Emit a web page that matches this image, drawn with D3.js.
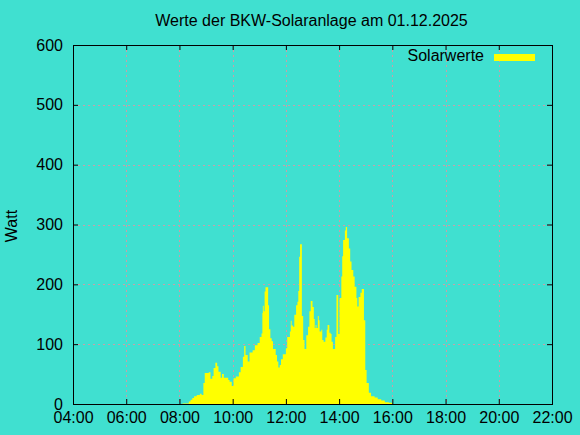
<!DOCTYPE html>
<html>
<head>
<meta charset="utf-8">
<script src="https://cdn.jsdelivr.net/npm/d3@7"></script>
<style>
  body { margin: 0; background: #40e0d0; }
  svg { display: block; font-family: "Liberation Sans", Arial, sans-serif; }
</style>
</head>
<body>
<svg id="chart"></svg>
<script>
// Solarwerte 01.12.2025, Zeit (HH:MM) und Leistung in Watt
var times = [
  "08:07","08:21","08:25","08:29","08:33","08:39","08:46","08:50","08:54","08:57",
  "09:01","09:06","09:10","09:14","09:17","09:21","09:25","09:28","09:33","09:36",
  "09:40","09:44","09:50","09:53","09:58","10:02","10:07","10:10","10:14","10:18",
  "10:23","10:26","10:29","10:34","10:38","10:45","10:50","10:56","11:01","11:05",
  "11:07","11:08","11:10","11:12","11:14","11:20","11:22","11:25","11:28","11:31",
  "11:37","11:40","11:43","11:46","11:49","11:53","12:00","12:03","12:09","12:11",
  "12:13","12:16","12:19","12:23","12:26","12:28","12:30","12:32","12:36","12:39",
  "12:42","12:46","12:50","12:53","12:56","13:00","13:03","13:05","13:07","13:09",
  "13:12","13:14","13:16","13:20","13:22","13:25","13:29","13:32","13:34","13:38",
  "13:41","13:43","13:46","13:51","13:54","13:58","14:01","14:05","14:07","14:09",
  "14:13","14:15","14:18","14:22","14:25","14:28","14:32","14:35","14:39","14:41",
  "14:44","14:48","14:51","14:56","14:59","15:02","15:07","15:12","15:20","15:27",
  "15:35","15:43","15:52","16:00"
];
var watts = [
  1, 4, 7, 10, 13, 15, 17, 15, 35, 52,
  52, 53, 42, 47, 60, 69, 63, 54, 44, 50,
  44, 44, 40, 37, 30, 43, 46, 46, 53, 62,
  79, 97, 82, 71, 86, 90, 98, 102, 112, 118,
  152, 164, 155, 188, 195, 165, 125, 110, 105, 92,
  82, 71, 61, 65, 75, 83, 93, 112, 121, 139,
  131, 129, 149, 165, 171, 189, 246, 267, 147, 107,
  92, 115, 129, 155, 172, 162, 142, 127, 132, 127,
  147, 140, 121, 124, 107, 104, 111, 124, 132, 119,
  117, 104, 92, 112, 182, 117, 177, 213, 247, 274,
  290, 296, 277, 260, 238, 224, 213, 196, 177, 163,
  179, 186, 192, 140, 57, 35, 19, 13, 11, 8,
  6, 3, 2, 0
];
var xTicks = ["04:00","06:00","08:00","10:00","12:00","14:00","16:00","18:00","20:00","22:00"];
var yTicks = [0, 100, 200, 300, 400, 500, 600];

var W = 580, H = 435;
var margin = {top: 45, left: 73, right: 28, bottom: 31};

function mins(s) {
  var p = s.split(":");
  return +p[0] * 60 + +p[1];
}

var data = times.map(function(t, i) { return {t: mins(t), v: watts[i]}; });

var svg = d3.select("#chart")
  .attr("width", W)
  .attr("height", H)
  .style("background", "#40e0d0");

var x = d3.scaleLinear()
  .domain([mins(xTicks[0]), mins(xTicks[xTicks.length - 1])])
  .range([margin.left, W - margin.right]);
var y = d3.scaleLinear()
  .domain([0, 600])
  .range([H - margin.bottom, margin.top]);

// grid
var grid = svg.append("g")
  .attr("stroke", "#c8a0a8")
  .attr("stroke-dasharray", "2,3");
grid.selectAll("line.gx")
  .data(xTicks.slice(1, -1))
  .join("line")
    .attr("x1", d => Math.round(x(mins(d))) + 0.5)
    .attr("x2", d => Math.round(x(mins(d))) + 0.5)
    .attr("y1", y(600))
    .attr("y2", y(0));
grid.selectAll("line.gy")
  .data(yTicks.slice(1, -1))
  .join("line")
    .attr("y1", d => Math.round(y(d)) + 0.5)
    .attr("y2", d => Math.round(y(d)) + 0.5)
    .attr("x1", x.range()[0])
    .attr("x2", x.range()[1]);

// data as boxes (step)
var area = d3.area()
  .curve(d3.curveStepAfter)
  .x(d => x(d.t))
  .y0(y(0))
  .y1(d => y(d.v));

svg.append("path")
  .datum(data)
  .attr("fill", "#ffff00")
  .attr("d", area);

// axes with inward ticks, mirrored
var fmt = d3.format("02d");
var xAxis = d3.axisBottom(x)
  .tickValues(xTicks.map(mins))
  .tickFormat(d => fmt(Math.floor(d / 60)) + ":" + fmt(d % 60))
  .tickSize(-5)
  .tickPadding(8);
var yAxis = d3.axisLeft(y)
  .tickValues(yTicks)
  .tickSize(-5)
  .tickPadding(10);

svg.append("g")
  .attr("transform", `translate(0,${y(0)})`)
  .call(xAxis);
svg.append("g")
  .attr("transform", `translate(0,${y(600)})`)
  .call(d3.axisTop(x).tickValues(xTicks.map(mins)).tickFormat("").tickSize(-5));
svg.append("g")
  .attr("transform", `translate(${x.range()[0]},0)`)
  .call(yAxis);
svg.append("g")
  .attr("transform", `translate(${x.range()[1]},0)`)
  .call(d3.axisRight(y).tickValues(yTicks).tickFormat("").tickSize(-5));

svg.selectAll(".domain").remove();
svg.selectAll(".tick line").attr("stroke", "#000");
svg.selectAll(".tick text")
  .attr("fill", "#000")
  .style("font-size", "16px")
  .style("font-family", "'Liberation Sans', Arial, sans-serif");

// border
svg.append("rect")
  .attr("x", x.range()[0] + 0.5)
  .attr("y", y(600) + 0.5)
  .attr("width", x.range()[1] - x.range()[0])
  .attr("height", y(0) - y(600))
  .attr("fill", "none")
  .attr("stroke", "#000");

// title
svg.append("text")
  .attr("x", 311.5)
  .attr("y", 26)
  .attr("text-anchor", "middle")
  .style("font-size", "16px")
  .text("Werte der BKW-Solaranlage am 01.12.2025");

// y label
svg.append("text")
  .attr("transform", "translate(17,226) rotate(-90)")
  .attr("text-anchor", "middle")
  .style("font-size", "16px")
  .text("Watt");

// legend
svg.append("text")
  .attr("x", 484)
  .attr("y", 61)
  .attr("text-anchor", "end")
  .style("font-size", "16px")
  .text("Solarwerte");
svg.append("rect")
  .attr("x", 494)
  .attr("y", 54)
  .attr("width", 41)
  .attr("height", 7)
  .attr("fill", "#ffff00");
</script>
</body>
</html>
